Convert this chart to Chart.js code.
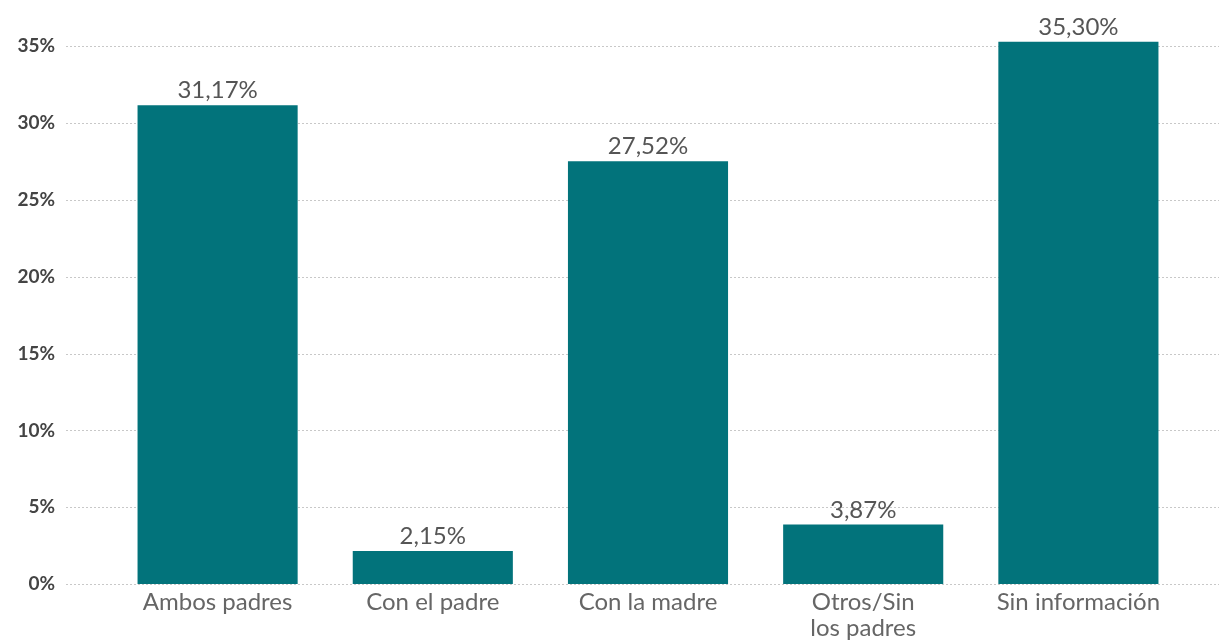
<!DOCTYPE html>
<html>
<head>
<meta charset="utf-8">
<script src="https://cdn.jsdelivr.net/npm/chart.js@4"></script>
<style>
  html, body { margin: 0; padding: 0; background: #fff; }
  #wrap { width: 1219px; height: 641px; }
</style>
</head>
<body>
<div id="wrap"><canvas id="chart" width="1219" height="641"></canvas></div>
<script>
var categories = ['Ambos padres', 'Con el padre', 'Con la madre', ['Otros/Sin', 'los padres'], 'Sin información'];
var values = [31.17, 2.15, 27.52, 3.87, 35.30];
var yTicks = [0, 5, 10, 15, 20, 25, 30, 35];

var barColor = '#02737b';
var fontName = 'Lato, "Open Sans", sans-serif';

// dotted horizontal gridlines across the whole width
var gridPlugin = {
  id: 'fullGrid',
  beforeDatasetsDraw: function(chart) {
    var ctx = chart.ctx;
    var y = chart.scales.y;
    ctx.save();
    ctx.strokeStyle = '#c8c8c8';
    ctx.lineWidth = 1;
    ctx.setLineDash([2, 2]);
    yTicks.forEach(function(t) {
      var py = Math.round(y.getPixelForValue(t)) + 0.5;
      ctx.beginPath();
      ctx.moveTo(66, py);
      ctx.lineTo(chart.width, py);
      ctx.stroke();
    });
    ctx.restore();
  }
};

// value labels above bars
var labelPlugin = {
  id: 'valueLabels',
  afterDatasetsDraw: function(chart) {
    var ctx = chart.ctx;
    var meta = chart.getDatasetMeta(0);
    ctx.save();
    ctx.fillStyle = '#555555';
    ctx.font = '24px ' + fontName;
    ctx.textAlign = 'center';
    ctx.textBaseline = 'alphabetic';
    meta.data.forEach(function(bar, i) {
      var txt = values[i].toFixed(2).replace('.', ',') + '%';
      ctx.fillText(txt, bar.x, bar.y - 7);
    });
    ctx.restore();
  }
};

new Chart(document.getElementById('chart'), {
  type: 'bar',
  data: {
    labels: categories,
    datasets: [{
      data: values,
      backgroundColor: barColor,
      barPercentage: 0.744,
      categoryPercentage: 1
    }]
  },
  options: {
    responsive: false,
    animation: false,
    layout: { padding: { top: 31, right: 33, left: 0, bottom: 0 } },
    plugins: { legend: { display: false }, tooltip: { enabled: false } },
    scales: {
      x: {
        grid: { display: false, drawTicks: false },
        border: { display: false },
        ticks: {
          color: '#666666',
          font: { family: fontName, size: 24, lineHeight: 1.05 },
          padding: 6,
          maxRotation: 0,
          autoSkip: false
        },
        afterFit: function(s) { s.height = 57; }
      },
      y: {
        min: 0,
        max: 36,
        grid: { display: false, drawTicks: false },
        border: { display: false },
        ticks: {
          stepSize: 5,
          color: '#444444',
          font: { family: fontName, size: 19, weight: 'bold' },
          padding: 55,
          callback: function(v) { return v + '%'; }
        },
        afterBuildTicks: function(s) {
          s.ticks = yTicks.map(function(v) { return { value: v }; });
        },
        afterFit: function(s) {
          s.width = 110;
          s.paddingTop = 10;
          s.paddingBottom = 10;
        }
      }
    }
  },
  plugins: [gridPlugin, labelPlugin]
});
</script>
</body>
</html>
